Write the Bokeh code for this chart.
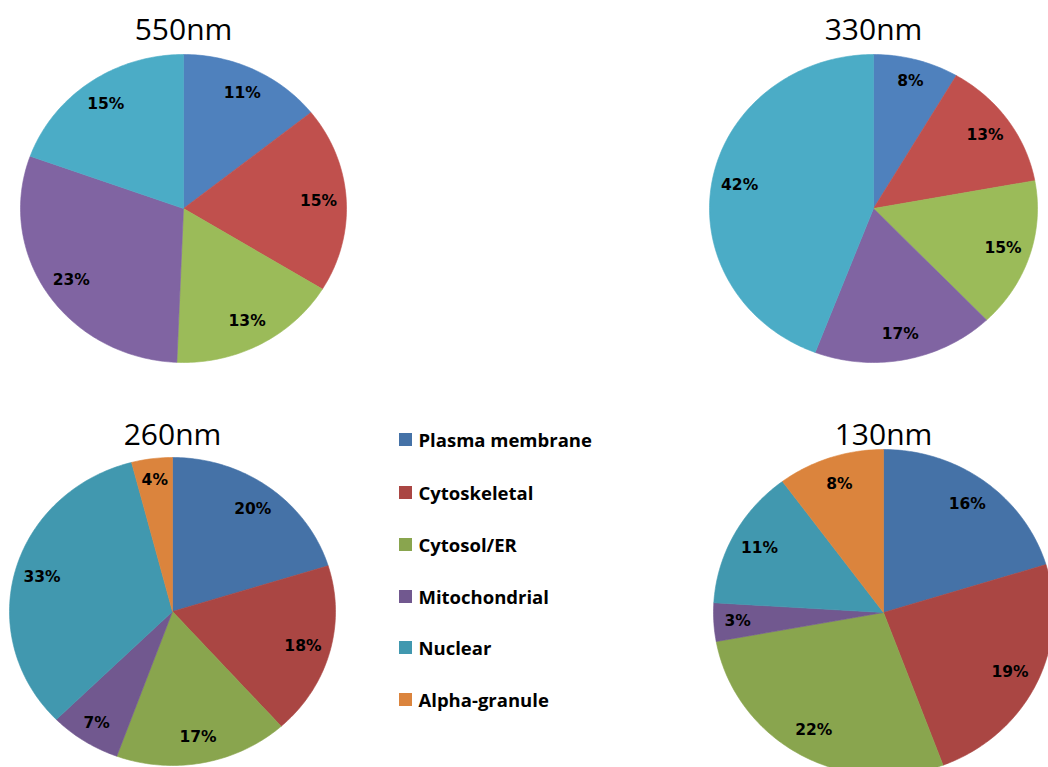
import numpy as np
from bokeh.plotting import figure
from bokeh.models import ColumnDataSource, Range1d
from bokeh.core.properties import value
from bokeh.embed import file_html
from bokeh.resources import INLINE

# Subcellular localisation shares (%) per particle size
categories = ["Plasma membrane", "Cytoskeletal", "Cytosol/ER",
              "Mitochondrial", "Nuclear", "Alpha-granule"]
v550 = [11, 15, 13, 23, 15, 0]
v330 = [8, 13, 15, 17, 42, 0]
v260 = [20, 18, 17, 7, 33, 4]
v130 = [16, 19, 22, 3, 11, 8]
titles = ["550nm", "330nm", "260nm", "130nm"]

bright = ["#4F81BD", "#C0504D", "#9BBB59", "#8064A2", "#4BACC6", "#F79646"]
dark = ["#4572A7", "#AA4643", "#89A54E", "#71588F", "#4198AF", "#DB843D"]

W, H = 1048, 767
p = figure(width=W, height=H, output_backend="svg", toolbar_location=None,
           x_range=Range1d(0, W), y_range=Range1d(H, 0),
           min_border=0, background_fill_color="white",
           border_fill_color="white", outline_line_color=None)
p.axis.visible = False
p.grid.visible = False

# pie layout: center x, center y, radius x, radius y, title y, palette
layout = [
    (183, 208, 163, 154, 28, bright),
    (873, 208, 164, 154, 28, bright),
    (172, 611, 163, 154, 433, dark),
    (883, 612, 170, 163, 433, dark),
]
series = [v550, v330, v260, v130]

FONT = "Open Sans"
LABEL_FONT = "DejaVu Sans"

for vals, title, (cx, cy, rx, ry, ty, pal) in zip(series, titles, layout):
    vals = np.array(vals, dtype=float)
    total = vals.sum()
    ends = np.cumsum(vals) / total * 2 * np.pi
    starts = ends - vals / total * 2 * np.pi
    xs, ys, cols, lx, ly, lt = [], [], [], [], [], []
    for i, (a0, a1) in enumerate(zip(starts, ends)):
        if vals[i] <= 0:
            continue
        t = np.linspace(a0, a1, max(int((a1 - a0) * 60), 4))
        xs.append(np.concatenate([[cx], cx + rx * np.sin(t)]).tolist())
        ys.append(np.concatenate([[cy], cy - ry * np.cos(t)]).tolist())
        cols.append(pal[i])
        mid = (a0 + a1) / 2
        # narrow slices get their label pushed a little further out
        f = 0.86 if vals[i] / total < 0.1 else 0.83
        lx.append(cx + f * rx * np.sin(mid))
        ly.append(cy - f * ry * np.cos(mid))
        lt.append(f"{int(vals[i])}%")
    src = ColumnDataSource(dict(xs=xs, ys=ys, c=cols))
    p.patches("xs", "ys", source=src, fill_color="c", line_color="c",
              line_width=0.6)
    p.text(x=lx, y=ly, text=lt, text_font=value(LABEL_FONT),
           text_font_style="bold", text_font_size="15.5px",
           text_align="center", text_baseline="middle", text_color="black")
    p.text(x=[cx], y=[ty], text=[title], text_font=value(FONT),
           text_font_size="30px", text_align="center",
           text_baseline="middle", text_color="black")

# legend
leg_y = [439, 492, 544, 596, 647, 699]
p.rect(x=[405] * len(categories), y=leg_y, width=13, height=13,
       fill_color=dark, line_color=None)
p.text(x=[418] * len(categories), y=leg_y, text=categories,
       text_font=value(FONT), text_font_style="bold", text_font_size="18.5px",
       text_align="left", text_baseline="middle", text_color="black")

open("out.html", "w").write(file_html(p, INLINE))
